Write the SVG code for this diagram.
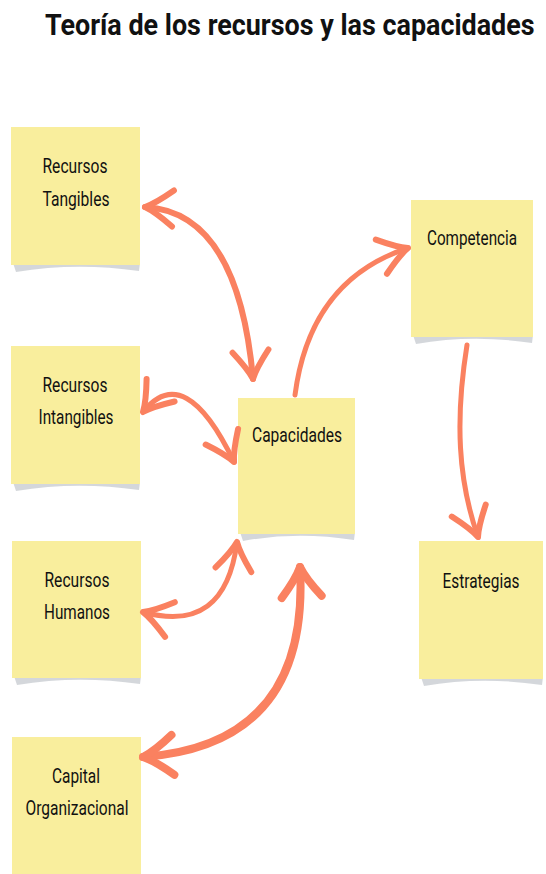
<svg xmlns="http://www.w3.org/2000/svg" width="546" height="874" viewBox="0 0 546 874">
<style>
.note{fill:#F9EE9D}
.shadow{fill:#C9CDD2;opacity:0.8}
.lbl{font-family:"Liberation Sans Narrow","Roboto","Liberation Sans",sans-serif;font-size:20px;fill:#111;text-anchor:middle}
.title{font-family:"Liberation Sans Narrow","Roboto","Liberation Sans",sans-serif;font-weight:bold;font-size:29px;fill:#111}
.arr{fill:none;stroke:#FA8160;stroke-linecap:round;stroke-linejoin:round}
</style>
<defs>
<marker id="head" markerUnits="userSpaceOnUse" viewBox="-40 -30 50 60" refX="0" refY="0" markerWidth="50" markerHeight="60" orient="auto-start-reverse" overflow="visible">
<path d="M-28,-18 Q-10,-4 0,0 Q-10,4 -28,18" fill="none" stroke="#FA8160" stroke-width="6" stroke-linecap="round" stroke-linejoin="round"/>
</marker>
<marker id="headB" markerUnits="userSpaceOnUse" viewBox="-40 -30 50 60" refX="0" refY="0" markerWidth="50" markerHeight="60" orient="auto-start-reverse" overflow="visible">
<path d="M-30,-20 Q-12,-5 0,0 Q-12,5 -30,20" fill="none" stroke="#FA8160" stroke-width="8" stroke-linecap="round" stroke-linejoin="round"/>
</marker>
</defs>
<rect width="546" height="874" fill="#FFFFFF"/>
<g id="title" transform="scale(0.9,1)">
<text class="title" x="50" y="35" textLength="544" lengthAdjust="spacingAndGlyphs">Teoría de los recursos y las capacidades</text>
</g>

<g id="tangibles">
<path class="shadow" d="M13,263 L140,263 L139,271 Q76,262 16,272 Z"/>
<rect class="note" x="11" y="127" width="129" height="138"/>
<text class="lbl" x="75" y="173" textLength="65" lengthAdjust="spacingAndGlyphs">Recursos</text>
<text class="lbl" x="76" y="206" textLength="67" lengthAdjust="spacingAndGlyphs">Tangibles</text>
</g>
<g id="intangibles">
<path class="shadow" d="M13,482 L140,482 L139,490 Q76,481 16,491 Z"/>
<rect class="note" x="11" y="346" width="129" height="138"/>
<text class="lbl" x="75" y="392" textLength="65" lengthAdjust="spacingAndGlyphs">Recursos</text>
<text class="lbl" x="76" y="424" textLength="75" lengthAdjust="spacingAndGlyphs">Intangibles</text>
</g>
<g id="humanos">
<path class="shadow" d="M14,676 L141,676 L140,684 Q77,675 17,685 Z"/>
<rect class="note" x="12" y="541" width="129" height="137"/>
<text class="lbl" x="77" y="587" textLength="65" lengthAdjust="spacingAndGlyphs">Recursos</text>
<text class="lbl" x="77" y="619" textLength="66" lengthAdjust="spacingAndGlyphs">Humanos</text>
</g>
<g id="capital">
<rect class="note" x="12" y="737" width="129" height="140"/>
<text class="lbl" x="76" y="783" textLength="48" lengthAdjust="spacingAndGlyphs">Capital</text>
<text class="lbl" x="77" y="815" textLength="103" lengthAdjust="spacingAndGlyphs">Organizacional</text>
</g>
<g id="capacidades">
<path class="shadow" d="M240,532 L355,532 L354,540 Q297,531 243,541 Z"/>
<rect class="note" x="238" y="398" width="117" height="136"/>
<text class="lbl" x="297" y="442" textLength="90" lengthAdjust="spacingAndGlyphs">Capacidades</text>
</g>
<g id="competencia">
<path class="shadow" d="M413,335 L533,335 L532,343 Q472,334 416,344 Z"/>
<rect class="note" x="411" y="200" width="122" height="137"/>
<text class="lbl" x="472" y="245" textLength="90" lengthAdjust="spacingAndGlyphs">Competencia</text>
</g>
<g id="estrategias">
<path class="shadow" d="M421,677 L543,677 L542,685 Q481,676 424,686 Z"/>
<rect class="note" x="419" y="541" width="124" height="138"/>
<text class="lbl" x="481" y="588" textLength="77" lengthAdjust="spacingAndGlyphs">Estrategias</text>
</g>

<g id="connectors">
<path class="arr" stroke-width="6" d="M145,207 Q238,212 253,379" marker-start="url(#head)" marker-end="url(#head)"/>
<path class="arr" stroke-width="5" d="M143,412 Q185,360 234,462" marker-start="url(#head)" marker-end="url(#head)"/>
<path class="arr" stroke-width="5" d="M143,612 Q225,635 237,542" marker-start="url(#head)" marker-end="url(#head)"/>
<path class="arr" stroke-width="8" d="M143,757 Q310,745 300,567" marker-start="url(#headB)" marker-end="url(#headB)"/>
<path class="arr" stroke-width="5" d="M295,395 Q310,280 408,248" marker-end="url(#head)"/>
<path class="arr" stroke-width="5" d="M467,345 C455,420 458,480 478,537" marker-end="url(#head)"/>
</g>
</svg>
